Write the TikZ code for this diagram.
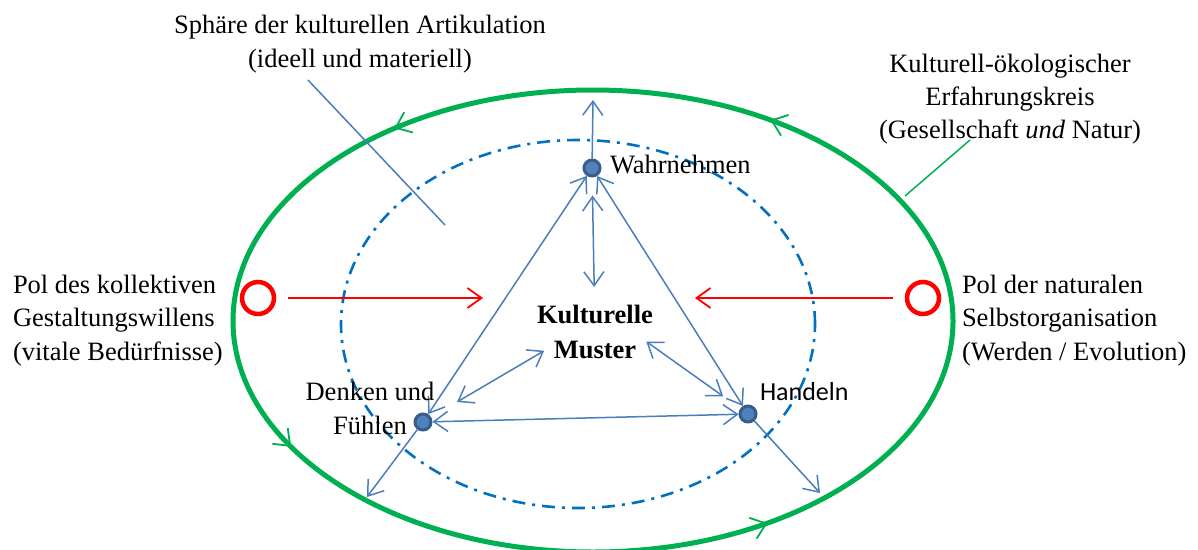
\documentclass[tikz,border=0pt]{standalone}
\usepackage{fontspec}
\setmainfont{Liberation Serif}
\newfontfamily\labelsans{Carlito}
\usetikzlibrary{arrows.meta,calc}

\definecolor{loopgreen}{RGB}{0,176,80}
\definecolor{spheredash}{RGB}{0,112,192}
\definecolor{connblue}{RGB}{74,126,187}
\definecolor{dotring}{RGB}{56,93,138}
\definecolor{dotfill}{RGB}{79,129,189}
\definecolor{polered}{RGB}{255,0,0}

\tikzset{
  txt/.style={inner sep=0pt, outer sep=0pt, font=\fontsize{26.5}{34.5}\selectfont, align=center},
  cycleline/.style={draw=loopgreen, line width=5pt},
  cycletip/.style={draw=loopgreen, line width=1.8pt,
    -{Straight Barb[length=14pt,width=22pt]}},
  sphereline/.style={draw=spheredash, line width=2.6pt,
    dash pattern=on 13pt off 7pt on 3pt off 7pt},
  conn/.style={draw=connblue, line width=1.5pt},
  oneway/.style={conn, -{Straight Barb[length=14pt,width=20pt]}},
  twoway/.style={conn, {Straight Barb[length=14pt,width=20pt]}-{Straight Barb[length=14pt,width=20pt]}},
  push/.style={draw=polered, line width=1.8pt, -{Straight Barb[length=14pt,width=20pt]}},
  pole/.style={circle, draw=polered, line width=4.5pt, minimum size=32pt, inner sep=0pt},
  dot/.style={circle, draw=dotring, fill=dotfill, line width=3pt, minimum size=16pt, inner sep=0pt}
}

\begin{document}
\begin{tikzpicture}[x=1pt,y=-1pt]
\useasboundingbox (0,0) rectangle (1198,549);

% cultural-ecological cycle (outer green loop) with direction marks
\coordinate (cG) at (593,321);
\draw[cycleline] (cG) ellipse [x radius=360pt, y radius=231pt];
\foreach \a [evaluate=\a as \b using \a-5] in {123.5,60.5,213,299}
  \draw[cycletip] ($(cG)+(\b:360pt and 231pt)$)
     arc[start angle=\b, end angle=\a, x radius=360pt, y radius=231pt];

% sphere of cultural articulation (dash-dot loop)
\coordinate (cS) at (578,324);
\draw[sphereline] (cS) ellipse [x radius=237pt, y radius=184pt];

% poles and their pushes towards the sphere
\node[pole] (polL) at (258,298) {};
\node[pole] (polR) at (923,298) {};
\coordinate (pushL) at (483,298);
\coordinate (pushR) at (695,298);
\draw[push, shorten <=12pt] (polL) -- (pushL);
\draw[push, shorten <=12pt] (polR) -- (pushR);

% pointer lines of the two upper labels
\coordinate (sphA) at (308,80);
\coordinate (sphB) at (445,225);
\draw[conn] (sphA) -- (sphB);
\coordinate (kreisA) at (905,196);
\coordinate (kreisB) at (970,140);
\draw[draw=loopgreen, line width=1.5pt] (kreisA) -- (kreisB);

% the three modes and the core
\node[dot] (wahr) at (592,168) {};
\node[dot] (denk) at (423,422) {};
\node[dot] (hand) at (748,414) {};
\node[txt, anchor=north, font=\fontsize{26.5}{35}\selectfont\bfseries] (km) at (595,305) {Kulturelle\\Muster};

\coordinate (wahrOut) at (593,100);
\coordinate (denkOut) at (367,497);
\coordinate (handOut) at (820,493);

\draw[oneway] (wahr) -- (wahrOut);
\draw[oneway] (denk) -- (denkOut);
\draw[oneway] (hand) -- (handOut);
\draw[twoway] (wahr) -- (denk);
\draw[twoway] (wahr) -- (hand);
\draw[twoway] (denk) -- (hand);
\draw[twoway, shorten <=18pt, shorten >=18pt] (wahr) -- (km);
\draw[twoway, shorten <=59pt, shorten >=30pt] ([yshift=11pt]km.center) -- (denk);
\draw[twoway, shorten <=63pt, shorten >=21pt] (km.north) -- (hand);

% labels
\node[txt, anchor=base west] (lwahr) at (610,173) {Wahrnehmen};
\node[txt, anchor=base west, font=\fontsize{26}{32}\selectfont\labelsans] (lhand) at (760,400) {Handeln};
\node[txt, anchor=north] (ldenk) at (370,382) {Denken und\\Fühlen};

\node[txt, anchor=north] (lsph) at (360,15) {Sphäre der kulturellen Artikulation\\(ideell und materiell)};
\node[txt, anchor=north, font=\fontsize{26.5}{33}\selectfont] (lkreis) at (1010,54) {Kulturell-ökologischer\\Erfahrungskreis\\(Gesellschaft \textit{und} Natur)};
\node[txt, anchor=north west, align=left, font=\fontsize{26.5}{33.5}\selectfont] (lpolL) at (13,275) {Pol des kollektiven\\Gestaltungswillens\\(vitale Bedürfnisse)};
\node[txt, anchor=north west, align=left, font=\fontsize{26.5}{33.5}\selectfont] (lpolR) at (962,275) {Pol der naturalen\\Selbstorganisation\\(Werden / Evolution)};
\end{tikzpicture}
\end{document}
